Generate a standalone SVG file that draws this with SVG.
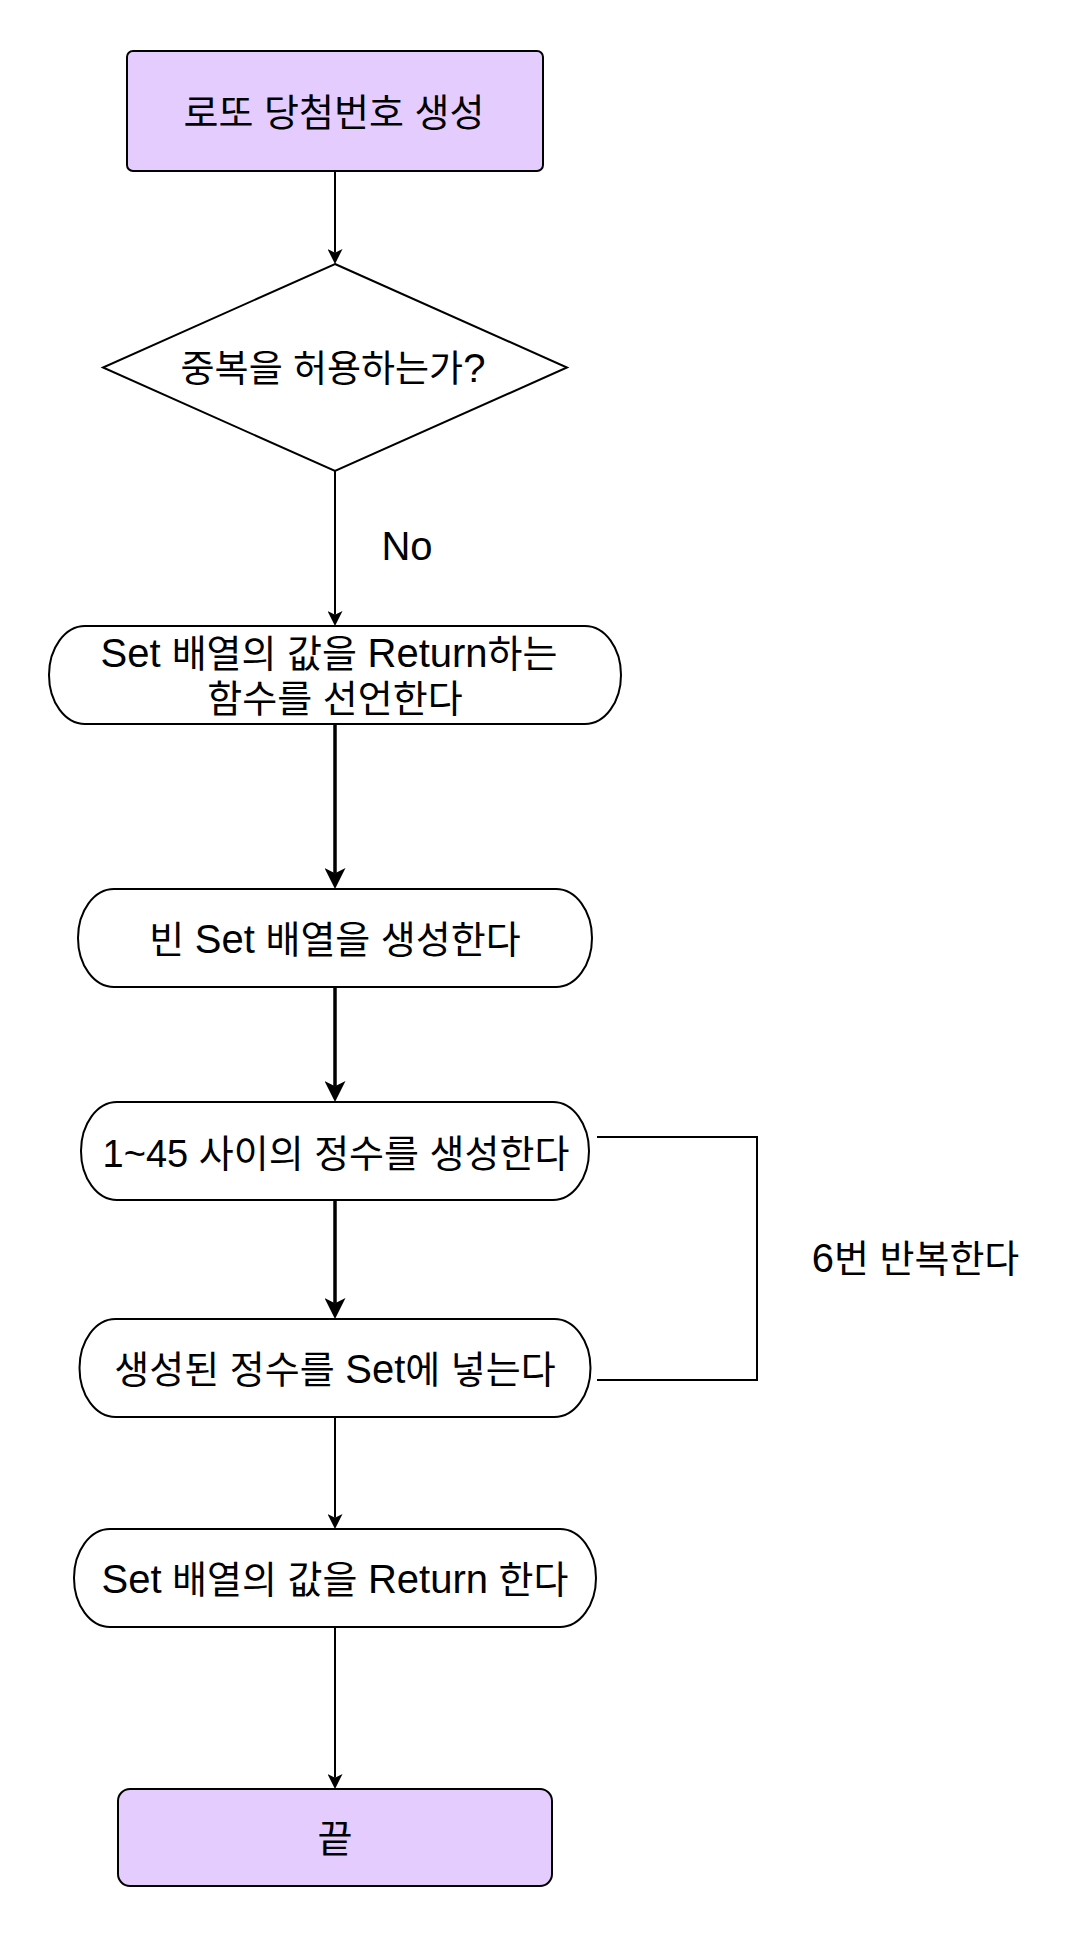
<svg xmlns="http://www.w3.org/2000/svg" width="1082" height="1938" viewBox="0 0 1082 1938">
<style>
.bg{fill:#ffffff}
.term{fill:#E5CCFF;stroke:#000;stroke-width:2}
.pill{fill:#ffffff;stroke:#000;stroke-width:2}
.dia{fill:#ffffff;stroke:#000;stroke-width:2}
.t{font-family:'Liberation Sans','Noto Sans CJK KR',sans-serif;font-size:38px;fill:#000;text-anchor:middle}
.L{font-size:40px}
.N{font-size:38px}
.dq{font-size:37px}
.thin{fill:none;stroke:#000;stroke-width:2}
.thick{fill:none;stroke:#000;stroke-width:3.5}
</style>
<defs>
<marker id="ah" markerUnits="userSpaceOnUse" viewBox="0 -7.5 15 15" markerWidth="15" markerHeight="15" refX="3.75" refY="0" orient="auto">
<path d="M15,0 L0,-7.5 L3.75,0 L0,7.5 Z" fill="#000"/>
</marker>
<marker id="ahb" markerUnits="userSpaceOnUse" viewBox="0 -10.5 21 21" markerWidth="21" markerHeight="21" refX="5.25" refY="0" orient="auto">
<path d="M21,0 L0,-10.5 L5.25,0 L0,10.5 Z" fill="#000"/>
</marker>
</defs>
<rect class="bg" x="0" y="0" width="1082" height="1938"/>
<g id="connectors">
<line class="thin" x1="335" y1="171" x2="335" y2="252.75" marker-end="url(#ah)"/>
<line class="thin" x1="335" y1="471" x2="335" y2="614.75" marker-end="url(#ah)"/>
<line class="thick" x1="335" y1="724" x2="335" y2="873.25" marker-end="url(#ahb)"/>
<line class="thick" x1="335" y1="987" x2="335" y2="1086.25" marker-end="url(#ahb)"/>
<line class="thick" x1="335" y1="1200" x2="335" y2="1303.25" marker-end="url(#ahb)"/>
<line class="thin" x1="335" y1="1417" x2="335" y2="1517.75" marker-end="url(#ah)"/>
<line class="thin" x1="335" y1="1627" x2="335" y2="1777.75" marker-end="url(#ah)"/>
<polyline class="thin" points="597,1137 757,1137 757,1380 597,1380"/>
<text class="t L" x="407" y="560">No</text>
<text class="t" x="915.5" y="1271.5"><tspan class="L">6</tspan>번 반복한다</text>
</g>
<g id="start">
<rect class="term" x="127" y="51" width="416" height="120" rx="6" ry="6"/>
<text class="t" x="334" y="125.5">로또 당첨번호 생성</text>
</g>
<g id="decision">
<polygon class="dia" points="335,264 567,367.5 335,471 103,367.5"/>
<text class="t dq" x="333" y="381.5">중복을 허용하는가<tspan class="L">?</tspan></text>
</g>
<g id="declare">
<rect class="pill" x="49" y="626" width="572" height="98" rx="36" ry="49"/>
<text class="t" x="329" y="666.5"><tspan class="L">Set </tspan>배열의 값을 <tspan class="L">Return</tspan>하는</text>
<text class="t" x="335" y="711.5">함수를 선언한다</text>
</g>
<g id="create-set">
<rect class="pill" x="78" y="889" width="514" height="98" rx="36" ry="49"/>
<text class="t" x="335" y="952.5">빈 <tspan class="L">Set</tspan> 배열을 생성한다</text>
</g>
<g id="gen-int">
<rect class="pill" x="81" y="1102" width="508" height="98" rx="36" ry="49"/>
<text class="t" x="336" y="1166.5"><tspan class="N">1~45</tspan> 사이의 정수를 생성한다</text>
</g>
<g id="put-set">
<rect class="pill" x="79.5" y="1319" width="511" height="98" rx="36" ry="49"/>
<text class="t" x="335" y="1382.5">생성된 정수를 <tspan class="L">Set</tspan>에 넣는다</text>
</g>
<g id="return">
<rect class="pill" x="74" y="1529" width="522" height="98" rx="36" ry="49"/>
<text class="t" x="335" y="1592.5"><tspan class="L">Set</tspan> 배열의 값을 <tspan class="L">Return</tspan> 한다</text>
</g>
<g id="end">
<rect class="term" x="118" y="1789" width="434" height="97" rx="12" ry="12"/>
<text class="t" x="335" y="1852">끝</text>
</g>
</svg>
